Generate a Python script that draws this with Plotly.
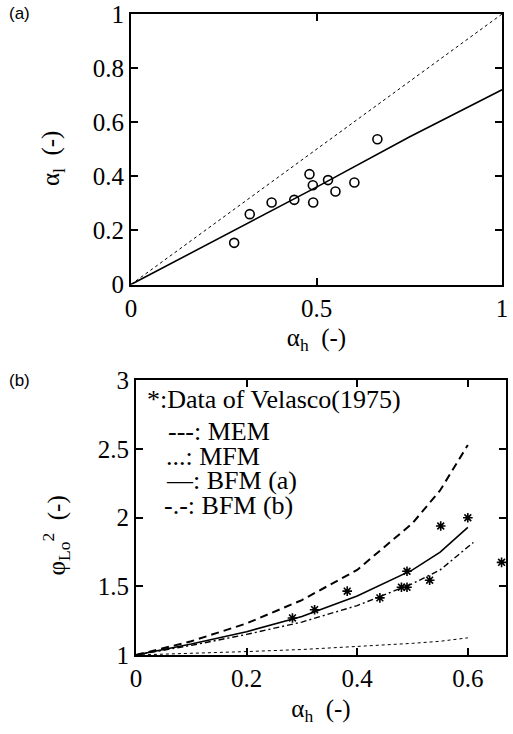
import plotly.graph_objects as go

# ---- Panel (a) data ----
a_h_pts = [0.278, 0.32, 0.379, 0.44, 0.481, 0.490, 0.491, 0.531, 0.551, 0.602, 0.664]
a_l_pts = [0.154, 0.26, 0.303, 0.313, 0.408, 0.367, 0.303, 0.386, 0.344, 0.377, 0.537]
fit_x = [0, 0.25, 0.5, 0.75, 1.0]
fit_y = [0, 0.18, 0.36, 0.545, 0.72]
diag_x = [0, 1]
diag_y = [0, 1]
a_xticks = [0, 0.5, 1]
a_xlabels = ["0", "0.5", "1"]
a_yticks = [0, 0.2, 0.4, 0.6, 0.8, 1]
a_ylabels = ["0", "0.2", "0.4", "0.6", "0.8", "1"]

# ---- Panel (b) data ----
vel_x = [0.283, 0.323, 0.382, 0.441, 0.480, 0.490, 0.490, 0.531, 0.551, 0.600, 0.661]
vel_y = [1.27, 1.33, 1.465, 1.416, 1.494, 1.494, 1.61, 1.545, 1.94, 2.00, 1.675]
curve_x = [0, 0.1, 0.2, 0.3, 0.4, 0.5, 0.55, 0.6]
mem_y = [1.0, 1.10, 1.23, 1.40, 1.62, 1.96, 2.20, 2.53]
mfm_y = [1.0, 1.01, 1.025, 1.04, 1.06, 1.085, 1.10, 1.125]
bfma_y = [1.0, 1.08, 1.17, 1.28, 1.43, 1.62, 1.75, 1.93]
bfmb_x = [0, 0.1, 0.2, 0.3, 0.4, 0.5, 0.55, 0.61]
bfmb_y = [1.0, 1.07, 1.15, 1.24, 1.36, 1.52, 1.62, 1.82]
b_xticks = [0, 0.2, 0.4, 0.6]
b_xlabels = ["0", "0.2", "0.4", "0.6"]
b_yticks = [1, 1.5, 2, 2.5, 3]
b_ylabels = ["1", "1.5", "2", "2.5", "3"]

legend_lines = ["*:Data of Velasco(1975)", "---: MEM", "...: MFM", "\u2014: BFM (a)", "-.-: BFM (b)"]

SERIF = "Liberation Serif"
SANS = "Liberation Sans"
TICK = 25
fig = go.Figure()

# panel a
fig.add_trace(go.Scatter(x=diag_x, y=diag_y, mode="lines", xaxis="x", yaxis="y",
                         line=dict(color="black", width=1, dash="dot"), showlegend=False))
fig.add_trace(go.Scatter(x=fit_x, y=fit_y, mode="lines", xaxis="x", yaxis="y",
                         line=dict(color="black", width=1.6), showlegend=False))
fig.add_trace(go.Scatter(x=a_h_pts, y=a_l_pts, mode="markers", xaxis="x", yaxis="y",
                         marker=dict(symbol="circle-open", size=9, color="black", line=dict(width=1.6)),
                         showlegend=False))

# panel b
fig.add_trace(go.Scatter(x=curve_x, y=mem_y, mode="lines", xaxis="x2", yaxis="y2",
                         line=dict(color="black", width=2, dash="8px,5px"), showlegend=False))
fig.add_trace(go.Scatter(x=curve_x, y=mfm_y, mode="lines", xaxis="x2", yaxis="y2",
                         line=dict(color="black", width=1, dash="dot"), showlegend=False))
fig.add_trace(go.Scatter(x=curve_x, y=bfma_y, mode="lines", xaxis="x2", yaxis="y2",
                         line=dict(color="black", width=1.6), showlegend=False))
fig.add_trace(go.Scatter(x=bfmb_x, y=bfmb_y, mode="lines", xaxis="x2", yaxis="y2",
                         line=dict(color="black", width=1.4, dash="6px,3px,2px,3px"), showlegend=False))
fig.add_trace(go.Scatter(x=vel_x, y=vel_y, mode="markers", xaxis="x2", yaxis="y2",
                         marker=dict(symbol="asterisk-open", size=8, color="black",
                                     line=dict(width=1.6, color="black")),
                         showlegend=False))

base = dict(showline=True, linecolor="black", linewidth=2, mirror="ticks",
            ticks="inside", ticklen=7, tickwidth=1.5, tickcolor="black",
            showgrid=False, zeroline=False,
            tickfont=dict(family=SERIF, size=TICK, color="black"))

fig.update_layout(
    width=513, height=734,
    margin=dict(l=131, r=1, t=13, b=79),
    paper_bgcolor="white", plot_bgcolor="white",
    xaxis=dict(domain=[0, 0.9895], range=[0, 1], tickvals=a_xticks, ticktext=a_xlabels, anchor="y",
               title=dict(text="\u03b1<sub>h</sub>  (-)", font=dict(family=SERIF, size=TICK, color="black"), standoff=8),
               **base),
    yaxis=dict(domain=[0.578, 1], range=[0, 1], tickvals=a_yticks, ticktext=a_ylabels, anchor="x", **base),
    xaxis2=dict(domain=[0.0131, 1], range=[0, 0.669], tickvals=b_xticks, ticktext=b_xlabels, anchor="y2",
                title=dict(text="\u03b1<sub>h</sub>  (-)", font=dict(family=SERIF, size=TICK, color="black"), standoff=8),
                **base),
    yaxis2=dict(domain=[0, 0.4283], range=[1, 3], tickvals=b_yticks, ticktext=b_ylabels, anchor="x2", **base),
)

fig.add_annotation(text="(a)", xref="paper", yref="paper", x=-126/381, y=(655-12)/642, xanchor="left",
                   yanchor="middle", showarrow=False, font=dict(family=SANS, size=17, color="black"))
fig.add_annotation(text="(b)", xref="paper", yref="paper", x=-126/381, y=(655-380)/642, xanchor="left",
                   yanchor="middle", showarrow=False, font=dict(family=SANS, size=17, color="black"))

# y axis titles
fig.add_annotation(text="\u03b1<sub>l</sub>  (-)", xref="paper", yref="paper", x=(52-131)/381, y=(655-158)/642,
                   textangle=-90, showarrow=False, xanchor="center", yanchor="middle",
                   font=dict(family=SERIF, size=TICK, color="black"))
fig.add_annotation(text="\u03c6<sub>Lo</sub><sup>2</sup>  (-)", xref="paper", yref="paper", x=(55-131)/381,
                   y=(655-535)/642, textangle=-90, showarrow=False, xanchor="center", yanchor="middle",
                   font=dict(family=SERIF, size=TICK, color="black"))

# in-plot legend text
leg_pos = [(145, 399), (167, 431), (165, 456), (165, 480), (163, 505)]
for txt, (px, py) in zip(legend_lines, leg_pos):
    fig.add_annotation(text=txt, xref="paper", yref="paper", x=(px-131)/381, y=(655-py)/642,
                       xanchor="left", yanchor="middle", showarrow=False,
                       font=dict(family=SERIF, size=26, color="black"))

fig.write_html("out.html", config={"displayModeBar": False},
               post_script="document.body.style.margin='0';")
